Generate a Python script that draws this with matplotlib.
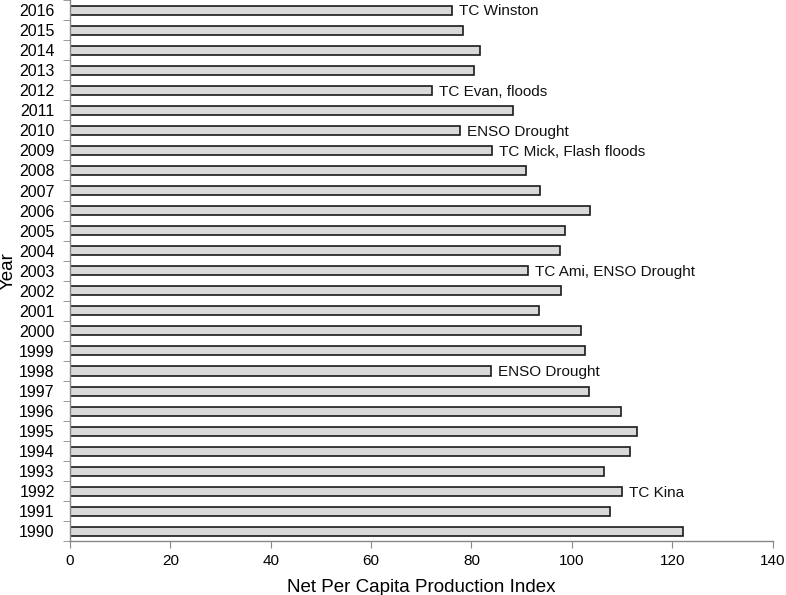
import numpy as np
import matplotlib.pyplot as plt

plt.rcParams['font.family'] = ['Liberation Sans', 'DejaVu Sans']

years = list(range(1990, 2017))
index_vals = [122.1, 107.6, 109.9, 106.5, 111.5, 113.0, 109.7, 103.4, 83.9, 102.7,
              101.9, 93.4, 97.9, 91.2, 97.6, 98.7, 103.6, 93.7, 90.9, 84.1,
              77.7, 88.3, 72.2, 80.5, 81.7, 78.4, 76.1]
events = {1992: 'TC Kina', 1998: 'ENSO Drought', 2003: 'TC Ami, ENSO Drought',
          2009: 'TC Mick, Flash floods', 2010: 'ENSO Drought',
          2012: 'TC Evan, floods', 2016: 'TC Winston'}

fig = plt.figure(figsize=(7.86, 5.95), dpi=100)
ax = fig.add_axes([0.089, 0.09, 0.894, 0.91])

pos = np.arange(len(years))
ax.barh(pos, index_vals, height=0.45, color='#d9d9d9', edgecolor='#1a1a1a', linewidth=1.2)

for i, (y, v) in enumerate(zip(years, index_vals)):
    if y in events:
        ax.annotate(events[y], (v, i), xytext=(5, -1), textcoords='offset points',
                    va='center', ha='left', fontsize=11, color='#111111')

ax.set_xlim(0, 140)
ax.set_ylim(-0.5, 26.5)
ax.set_xticks(range(0, 141, 20))
ax.set_yticks(pos)
ax.set_yticklabels([str(y) for y in years])
ax.set_yticks(np.arange(-0.5, 27, 1), minor=True)
ax.tick_params(axis='y', which='major', length=0, labelsize=11.5, pad=11)
ax.tick_params(axis='y', which='minor', length=5, color='#888888')
ax.tick_params(axis='x', length=5, color='#888888', labelsize=11, pad=4)

for s in ['top', 'right']:
    ax.spines[s].set_visible(False)
for s in ['left', 'bottom']:
    ax.spines[s].set_color('#888888')
    ax.spines[s].set_linewidth(1.0)

ax.set_xlabel('Net Per Capita Production Index', fontsize=13.5, labelpad=8)
ax.set_ylabel('Year', fontsize=13.5)
ax.yaxis.set_label_coords(-0.076, 0.5)

fig.savefig('out.png', dpi=100)
